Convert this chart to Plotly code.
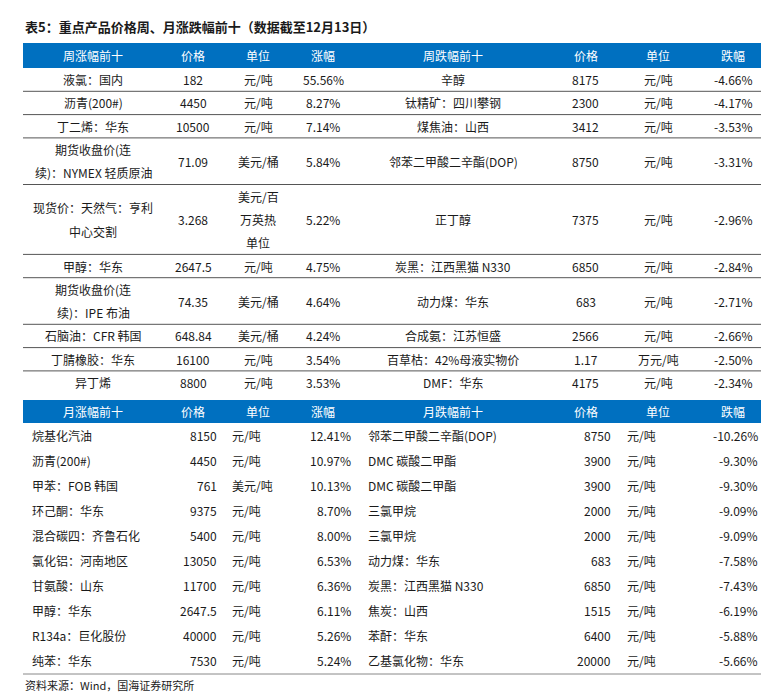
import plotly.graph_objects as go

# ---- data ----
title = "表5：重点产品价格周、月涨跌幅前十（数据截至12月13日）"
source = "资料来源：Wind，国海证券研究所"

top_header = ["周涨幅前十", "价格", "单位", "涨幅", "周跌幅前十", "价格", "单位", "跌幅"]
wk_up_name = ["液氯：国内", "沥青(200#)", "丁二烯：华东", "期货收盘价(连<br>续)：NYMEX 轻质原油",
              "现货价：天然气：亨利<br>中心交割", "甲醇：华东", "期货收盘价(连<br>续)：IPE 布油",
              "石脑油：CFR 韩国", "丁腈橡胶：华东", "异丁烯"]
wk_up_price = ["182", "4450", "10500", "71.09", "3.268", "2647.5", "74.35", "648.84", "16100", "8800"]
wk_up_unit = ["元/吨", "元/吨", "元/吨", "美元/桶", "美元/百<br>万英热<br>单位", "元/吨", "美元/桶",
              "美元/桶", "元/吨", "元/吨"]
wk_up_pct = ["55.56%", "8.27%", "7.14%", "5.84%", "5.22%", "4.75%", "4.64%", "4.24%", "3.54%", "3.53%"]
wk_dn_name = ["辛醇", "钛精矿：四川攀钢", "煤焦油：山西", "邻苯二甲酸二辛酯(DOP)", "正丁醇",
              "炭黑：江西黑猫 N330", "动力煤：华东", "合成氨：江苏恒盛", "百草枯：42%母液实物价", "DMF：华东"]
wk_dn_price = ["8175", "2300", "3412", "8750", "7375", "6850", "683", "2566", "1.17", "4175"]
wk_dn_unit = ["元/吨"] * 8 + ["万元/吨", "元/吨"]
wk_dn_pct = ["-4.66%", "-4.17%", "-3.53%", "-3.31%", "-2.96%", "-2.84%", "-2.71%", "-2.66%", "-2.50%", "-2.34%"]

bot_header = ["月涨幅前十", "价格", "单位", "涨幅", "月跌幅前十", "价格", "单位", "跌幅"]
mo_up_name = ["烷基化汽油", "沥青(200#)", "甲苯：FOB 韩国", "环己酮：华东", "混合碳四：齐鲁石化",
              "氯化铝：河南地区", "甘氨酸：山东", "甲醇：华东", "R134a：巨化股份", "纯苯：华东"]
mo_up_price = ["8150", "4450", "761", "9375", "5400", "13050", "11700", "2647.5", "40000", "7530"]
mo_up_unit = ["元/吨", "元/吨", "美元/吨", "元/吨", "元/吨", "元/吨", "元/吨", "元/吨", "元/吨", "元/吨"]
mo_up_pct = ["12.41%", "10.97%", "10.13%", "8.70%", "8.00%", "6.53%", "6.36%", "6.11%", "5.26%", "5.24%"]
mo_dn_name = ["邻苯二甲酸二辛酯(DOP)", "DMC 碳酸二甲酯", "DMC 碳酸二甲酯", "三氯甲烷", "三氯甲烷",
              "动力煤：华东", "炭黑：江西黑猫 N330", "焦炭：山西", "苯酐：华东", "乙基氯化物：华东"]
mo_dn_price = ["8750", "3900", "3900", "2000", "2000", "683", "6850", "1515", "6400", "20000"]
mo_dn_unit = ["元/吨"] * 10
mo_dn_pct = ["-10.26%", "-9.30%", "-9.30%", "-9.09%", "-9.09%", "-7.58%", "-7.43%", "-6.19%", "-5.88%", "-5.66%"]

# ---- layout geometry ----
W, H = 769, 693
bounds = [15, 155, 215, 285, 345, 545, 610, 690, 760]
blue = "#0070C0"
font = "Noto Sans CJK SC"
txt = "#1a1a1a"
line_h = 23.3

shapes, ann = [], []


def label(x, y, s, anchor="center", color=txt, size=12, bold=False):
    parts = s.split("<br>")
    for k, p in enumerate(parts):
        yy = y + (k - (len(parts) - 1) / 2) * line_h
        ann.append(dict(x=x, y=yy, text=f"<b>{p}</b>" if bold else p, showarrow=False,
                        xanchor=anchor, yanchor="middle", xref="x", yref="y",
                        font=dict(family=font, size=size, color=color)))


def header(y0, y1, names):
    shapes.append(dict(type="rect", x0=bounds[0], x1=bounds[-1], y0=y0, y1=y1,
                       fillcolor=blue, line=dict(width=0), layer="below"))
    for i, s in enumerate(names):
        label((bounds[i] + bounds[i + 1]) / 2, (y0 + y1) / 2, s, color="white")


def hline(y, color="#555", w=1):
    shapes.append(dict(type="line", x0=bounds[0], x1=bounds[-1], y0=y, y1=y,
                       line=dict(color=color, width=w)))


label(15, 18, title, anchor="left", size=13, bold=True)

# top table
header(35, 60, top_header)
y = 60
cols = [wk_up_name, wk_up_price, wk_up_unit, wk_up_pct, wk_dn_name, wk_dn_price, wk_dn_unit, wk_dn_pct]
for r in range(len(wk_up_name)):
    lines = max(c[r].count("<br>") + 1 for c in cols)
    h = line_h * lines
    for i, c in enumerate(cols):
        label((bounds[i] + bounds[i + 1]) / 2, y + h / 2, c[r])
    y += h
    if r < len(wk_up_name) - 1:
        hline(y)

# bottom table
header(392, 415, bot_header)
y = 415
cols = [mo_up_name, mo_up_price, mo_up_unit, mo_up_pct, mo_dn_name, mo_dn_price, mo_dn_unit, mo_dn_pct]
xs = [(22, "left"), (211, "right"), (222, "left"), (345, "right"),
      (358, "left"), (605, "right"), (617, "left"), (752, "right")]
for r in range(len(mo_up_name)):
    h = 25
    for (x, a), c in zip(xs, cols):
        label(x, y + h / 2, c[r], anchor=a)
    y += h
hline(666, "#888")

label(15, 677, source, anchor="left", size=11)

fig = go.Figure()
fig.update_layout(
    width=W, height=H, margin=dict(l=0, r=0, t=0, b=0),
    paper_bgcolor="white", plot_bgcolor="white",
    xaxis=dict(range=[0, W], visible=False, fixedrange=True),
    yaxis=dict(range=[H, 0], visible=False, fixedrange=True),
    shapes=shapes, annotations=ann, showlegend=False,
)
fig.write_html("out.html")
